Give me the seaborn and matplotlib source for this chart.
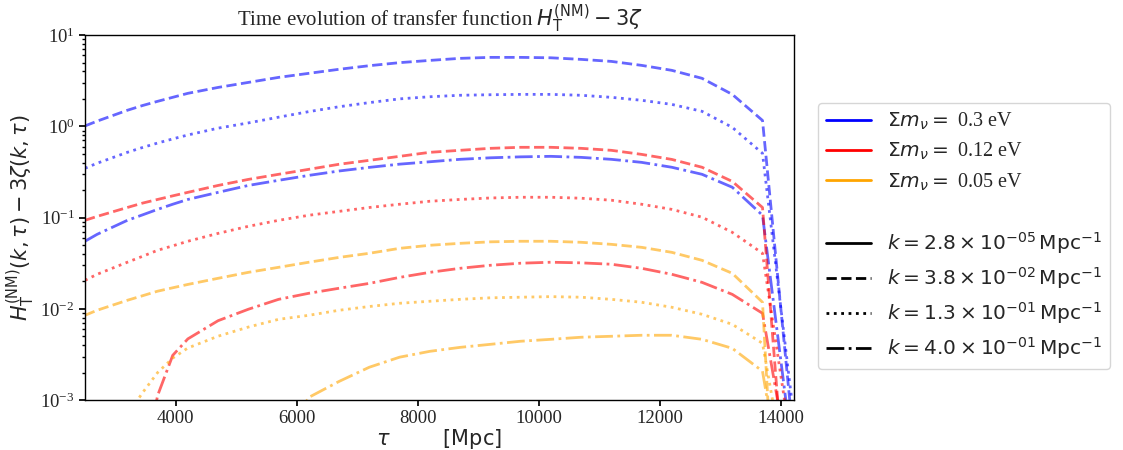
import matplotlib
matplotlib.use("Agg")
import numpy as np
import pandas as pd
import seaborn as sns
import matplotlib.pyplot as plt
from matplotlib.lines import Line2D

# conformal time grid [Mpc]
tau = [2500, 2700, 3200, 3450, 3700, 3950, 4200, 4700, 5200, 5700, 6200, 6700,
       7200, 7700, 8200, 8700, 9200, 9700, 10200, 10700, 11200, 11700, 12200,
       12700, 13200, 13700, 14200]

nan = np.nan

# Sum m_nu = 0.3 eV
m030_k038 = [1.01, 1.14, 1.50, 1.69, 1.88, 2.08, 2.30, 2.67, 3.03, 3.44, 3.81, 4.22,
             4.62, 4.99, 5.28, 5.56, 5.70, 5.70, 5.64, 5.42, 5.15, 4.66, 4.11,
             3.36, 2.24, 1.16, 4.6e-4]
m030_k13 = [0.347, 0.394, 0.519, 0.586, 0.656, 0.728, 0.804, 0.955, 1.09, 1.26, 1.45, 1.64,
            1.82, 2.00, 2.11, 2.19, 2.22, 2.24, 2.24, 2.19, 2.08, 1.93, 1.74,
            1.46, 0.975, 0.506, 8.1e-4]
m030_k40 = [0.0550, 0.0655, 0.0933, 0.107, 0.123, 0.140, 0.158, 0.189, 0.225, 0.256, 0.290, 0.324,
            0.355, 0.385, 0.409, 0.435, 0.452, 0.463, 0.469, 0.457, 0.435, 0.403, 0.356,
            0.298, 0.215, 0.106, 2.5e-4]

# Sum m_nu = 0.12 eV
m012_k038 = [0.0933, 0.103, 0.129, 0.144, 0.158, 0.173, 0.189, 0.225, 0.262, 0.298, 0.338, 0.384,
             0.424, 0.469, 0.519, 0.546, 0.574, 0.589, 0.589, 0.574, 0.546, 0.493, 0.434,
             0.356, 0.249, 0.129, 8e-6]
m012_k13 = [0.0205, 0.0239, 0.0324, 0.0376, 0.0438, 0.0490, 0.0550, 0.0671, 0.0802, 0.0933, 0.106, 0.117,
            0.129, 0.140, 0.151, 0.158, 0.164, 0.167, 0.167, 0.163, 0.155, 0.140, 0.123,
            0.101, 0.0689, 0.0406, 2.5e-4]
m012_k40 = [nan, nan, nan, 1.6e-4, 1.12e-3, 3.09e-3, 4.68e-3, 7.41e-3, 9.89e-3, 0.0127, 0.0148, 0.0168,
            0.0190, 0.0221, 0.0251, 0.0278, 0.0300, 0.0316, 0.0324, 0.0319, 0.0308, 0.0278, 0.0239,
            0.0195, 0.0144, 0.00893, 1.1e-4]

# Sum m_nu = 0.05 eV
m005_k038 = [0.00849, 0.00964, 0.0124, 0.0139, 0.0156, 0.0170, 0.0185, 0.0216, 0.0251, 0.0285, 0.0324, 0.0366,
             0.0406, 0.0460, 0.0497, 0.0522, 0.0542, 0.0550, 0.0550, 0.0536, 0.0509, 0.0472, 0.0416,
             0.0340, 0.0245, 0.0118, 1e-8]
m005_k13 = [nan, 2.5e-4, 6.8e-4, 1.20e-3, 2.00e-3, 2.88e-3, 3.72e-3, 5.01e-3, 6.31e-3, 7.67e-3, 8.49e-3, 9.64e-3,
            0.0106, 0.0115, 0.0121, 0.0127, 0.0132, 0.0134, 0.0136, 0.0134, 0.0127, 0.0118, 0.0104,
            8.71e-3, 6.76e-3, 4.19e-3, 5.6e-5]
m005_k40 = [nan, nan, nan, nan, nan, nan, nan, nan, nan, 3.16e-4, 1.07e-3, 1.60e-3,
            2.29e-3, 2.95e-3, 3.42e-3, 3.78e-3, 4.08e-3, 4.41e-3, 4.63e-3, 4.88e-3, 5.00e-3, 5.13e-3, 5.13e-3,
            4.63e-3, 3.69e-3, 2.07e-3, 2.2e-5]

masses = ["0.3", "0.12", "0.05"]
mass_colors = ["blue", "red", "orange"]
k_labels = ["2.8", "3.8", "1.3", "4.0"]
k_exps = ["05", "02", "01", "01"]
k_styles = ["-", "--", ":", "-."]

series = {
    ("0.3", "3.8"): m030_k038, ("0.3", "1.3"): m030_k13, ("0.3", "4.0"): m030_k40,
    ("0.12", "3.8"): m012_k038, ("0.12", "1.3"): m012_k13, ("0.12", "4.0"): m012_k40,
    ("0.05", "3.8"): m005_k038, ("0.05", "1.3"): m005_k13, ("0.05", "4.0"): m005_k40,
}

rows = []
for (m, k), vals in series.items():
    for t, v in zip(tau, vals):
        rows.append({"tau": t, "H": v, "mass": m, "k": k})
df = pd.DataFrame(rows)

sns.set_theme(style="ticks")
plt.rcParams["font.family"] = ["Liberation Serif", "DejaVu Serif"]
plt.rcParams["mathtext.fontset"] = "dejavusans"

fig = plt.figure(figsize=(11.23, 4.5), dpi=100)
ax = fig.add_axes([0.0757, 0.111, 0.6313, 0.811])

dash_map = {"3.8": (3.7, 1.6), "1.3": (1, 1.65), "4.0": (6.4, 1.6, 1, 1.6)}
sns.lineplot(data=df, x="tau", y="H", hue="mass", style="k",
             palette=dict(zip(masses, mass_colors)), dashes=dash_map,
             hue_order=masses, style_order=["3.8", "1.3", "4.0"],
             estimator=None, sort=True, lw=2, alpha=0.6, legend=False, ax=ax)

ax.set_yscale("log")
ax.set_xlim(2500, 14220)
ax.set_ylim(1e-3, 10)
ax.set_xticks([4000, 6000, 8000, 10000, 12000, 14000])
ax.tick_params(axis="both", which="major", labelsize=13.5, length=4, color="black")
ax.tick_params(axis="y", which="minor", length=2, color="black")
for s in ax.spines.values():
    s.set_color("black")
    s.set_linewidth(1.0)

ax.set_xlabel(r"$\tau\qquad\ \ [\mathrm{Mpc}]$", fontsize=15, labelpad=0)
ax.set_ylabel(r"$H_\mathrm{T}^{(\mathrm{NM})}(k,\tau) - 3\zeta(k,\tau)$", fontsize=15, labelpad=2)
ax.set_title(r"Time evolution of transfer function $H_\mathrm{T}^{(\mathrm{NM})} - 3\zeta$",
             fontsize=15, pad=4)

handles = [Line2D([], [], color=c, lw=2) for c in mass_colors]
labels = [r"$\Sigma m_\nu =$ " + m + " eV" for m in masses]
handles.append(Line2D([], [], color="none"))
labels.append(" ")
for kl, ke, ls in zip(k_labels, k_exps, k_styles):
    handles.append(Line2D([], [], color="black", lw=2, linestyle=ls))
    labels.append(r"$k = " + kl + r" \times 10^{-" + ke + r"}\,\mathrm{Mpc}^{-1}$")

ax.legend(handles, labels, loc="center left", bbox_to_anchor=(1.02, 0.45),
          fontsize=14.5, frameon=True, edgecolor="0.8", framealpha=0.8,
          handlelength=2.2, labelspacing=0.45)

fig.savefig("out.png", dpi=100)
